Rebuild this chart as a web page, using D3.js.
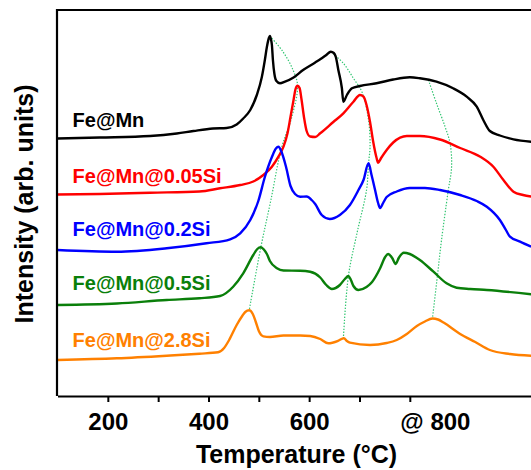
<!DOCTYPE html>
<html><head><meta charset="utf-8">
<script src="https://cdn.jsdelivr.net/npm/d3@7"></script>
<style>
body{margin:0;background:#fff}
svg{display:block}
text{font-family:"Liberation Sans",Arial,Helvetica,sans-serif;font-weight:bold}
</style>
</head><body>
<svg id="chart" width="531" height="470"></svg>
<script>
// ---- data: [temperature °C, intensity (arb. units)] ----
const seriesNames = ["Fe@Mn","Fe@Mn@0.05Si","Fe@Mn@0.2Si","Fe@Mn@0.5Si","Fe@Mn@2.8Si"];
const seriesColors = ["#000000","#ff0000","#0000ff","#0a7f0a","#ff8000"];

const feMn = [[100,256.5],[184,257.5],[284,259],[337,261.5],[370,264],[409,266.5],[436,267],[456,270.5],[469,276.5],[483,285],[496,300],[506,318],[512,335],[516,348],[520,357],[522,359],[524,356],[526,350],[528,335],[531,321],[535,314],[542,311.7],[552,313.3],[569,317.5],[588,325],[612,332.5],[622,335.7],[634,340],[643,343.3],[649,342],[653,338],[658,325],[665,307],[668,293.3],[675,300],[685,306.7],[701,309],[734,311.7],[767,315.5],[800,317.7],[820,316.7],[853,313.3],[886,306.7],[913,298.3],[933,288.3],[946,275],[959,264],[979,259.5],[1006,255.7],[1041,253.3]];

const feMn005Si = [[100,200.5],[184,201],[284,202.3],[382,203.5],[423,206.7],[463,210],[489,213.5],[509,220],[526,228.3],[539,238.3],[549,248.3],[557,261.7],[563,278.3],[569,295],[573,306],[577,309.3],[581,307],[585,295],[590,277],[595,264],[602,258.5],[612,258],[622,261.7],[648,273],[668,281.7],[688,293.3],[701,300],[708,298.3],[714,290],[721,273],[727,254],[734,237],[737,232.3],[743,237],[754,245],[767,252.5],[794,259],[820,259],[860,255.5],[900,247],[940,238.3],[966,228.3],[986,215],[1006,203.3],[1025,200],[1041,198.5]];

const feMn02Si = [[100,145],[218,143.3],[317,146.7],[396,151.7],[443,155.7],[463,161.7],[483,175],[499,194],[512,218],[526,238],[534,246.5],[539,248.3],[545,243.3],[554,228.3],[563,209],[572,201],[582,198.3],[595,198.5],[605,195],[612,191],[625,180],[641,176],[661,180],[681,190],[698,205],[708,215],[718,231.7],[724,220],[731,205],[737,192],[741,187],[747,192],[754,198],[774,203.5],[800,207],[830,207],[860,205],[900,200],[933,194],[953,188.3],[979,175],[991,165],[999,158.3],[1019,153.3],[1041,148.3]];

const feMn05Si = [[100,90],[218,91.5],[317,95],[382,96.7],[423,99],[449,108.3],[469,121.7],[489,140],[497,146],[504,147.7],[510,145.5],[516,141],[522,134],[536,126.7],[549,124.5],[582,124.3],[602,123.3],[622,117.5],[634,110],[645,106],[661,110],[671,116],[678,119],[683,115],[688,109],[698,105],[714,108],[725,113],[741,126.7],[751,138],[757,141],[765,137],[772,131],[778,137],[788,142.3],[800,141],[820,135],[847,123.3],[873,111.7],[893,107.3],[920,106],[953,105],[1041,100.7]];

const feMn28Si = [[100,35],[218,36.7],[317,39.3],[382,41.3],[419,42.7],[431,47],[441,55],[456,70],[467,79],[473,83],[481,84.7],[488,81],[494,73],[500,64],[509,58.7],[522,58],[549,59.5],[582,59.5],[602,59],[622,56],[638,51.7],[658,54.3],[669,56.8],[675,54],[681,52.3],[721,50],[754,52],[774,55],[794,61],[814,69],[830,73.5],[845,76.5],[856,75.5],[867,72.5],[900,61],[930,53],[959,45],[999,41],[1041,39.3]];

// dotted guide lines joining corresponding peaks
const guide1 = [[522,359],[548,343.3],[568,325],[577,309.3],[565,277],[545,247],[524,195],[504,147.7],[481,85]];
const guide2 = [[643,343.3],[668,331.7],[688,316.7],[705,303],[718,275],[721,248.3],[718,231.7],[714,205],[695,161.7],[678,119],[668,56.7]];
const guide3 = [[837,315],[853,291.7],[870,268.3],[880,251.7],[883,228.3],[876,203.3],[863,155],[855,120],[845,76.7]];

const tickValues = [200,300,400,500,600,700,800];
const tickLabels = ["200","","400","","600","","@ 800"];
const xTitle = "Temperature (°C)";
const yTitle = "Intensity (arb. units)";

// ---- drawing ----
const allSeries = [feMn, feMn005Si, feMn02Si, feMn05Si, feMn28Si];
const guides = [guide1, guide2, guide3];
const labelAnchors = [[130,267.7],[130,212.3],[130,159.3],[130,105],[130,48.5]];

const svg = d3.select("#chart");
const x = d3.scaleLinear().domain([100,1100]).range([57.5,560.8]);
const y = d3.scaleLinear().domain([0,385]).range([395,10]);
const axisY = 396;

const line = d3.line().x(d=>x(d[0])).y(d=>y(d[1])).curve(d3.curveMonotoneX);
const gline = d3.line().x(d=>x(d[0])).y(d=>y(d[1])).curve(d3.curveCatmullRom.alpha(0.5));

// guides
svg.append("g").selectAll("path").data(guides).join("path")
  .attr("d", gline).attr("fill","none")
  .attr("stroke","#2fc46f").attr("stroke-width",1.2)
  .attr("stroke-dasharray","1.4,1.6");

// series
svg.append("g").selectAll("path").data(allSeries).join("path")
  .attr("d", line).attr("fill","none")
  .attr("stroke",(d,i)=>seriesColors[i]).attr("stroke-width",2.4)
  .attr("stroke-linejoin","round");

// labels
svg.append("g").selectAll("text").data(seriesNames).join("text")
  .attr("x",(d,i)=>x(labelAnchors[i][0]))
  .attr("y",(d,i)=>y(labelAnchors[i][1]))
  .attr("fill",(d,i)=>seriesColors[i])
  .attr("font-size",20)
  .text(d=>d);

// frame: left & top
svg.append("path")
  .attr("d",`M${x(100)-0.5},${axisY}V${y(385)}H531`)
  .attr("fill","none").attr("stroke","#000").attr("stroke-width",2.2);

// bottom axis
const xAxis = d3.axisBottom(x).tickValues(tickValues)
  .tickFormat((d,i)=>tickLabels[i]).tickSize(6).tickSizeOuter(0).tickPadding(11);
const gx = svg.append("g").attr("transform",`translate(0,${axisY})`).call(xAxis);
gx.select(".domain").attr("stroke-width",2.2);
gx.selectAll(".tick line").attr("stroke-width",2);
gx.selectAll(".tick text").attr("font-size",24).attr("fill","#000")
  .attr("font-family",null);
gx.selectAll(".tick text").filter(d=>d===800).attr("text-anchor","start").attr("dx",-10);

// titles
svg.append("text").attr("x",296.5).attr("y",463).attr("text-anchor","middle")
  .attr("font-size",25).text(xTitle);
svg.append("text").attr("transform","translate(33,204) rotate(-90)")
  .attr("text-anchor","middle").attr("font-size",25).text(yTitle);
</script>
</body></html>
